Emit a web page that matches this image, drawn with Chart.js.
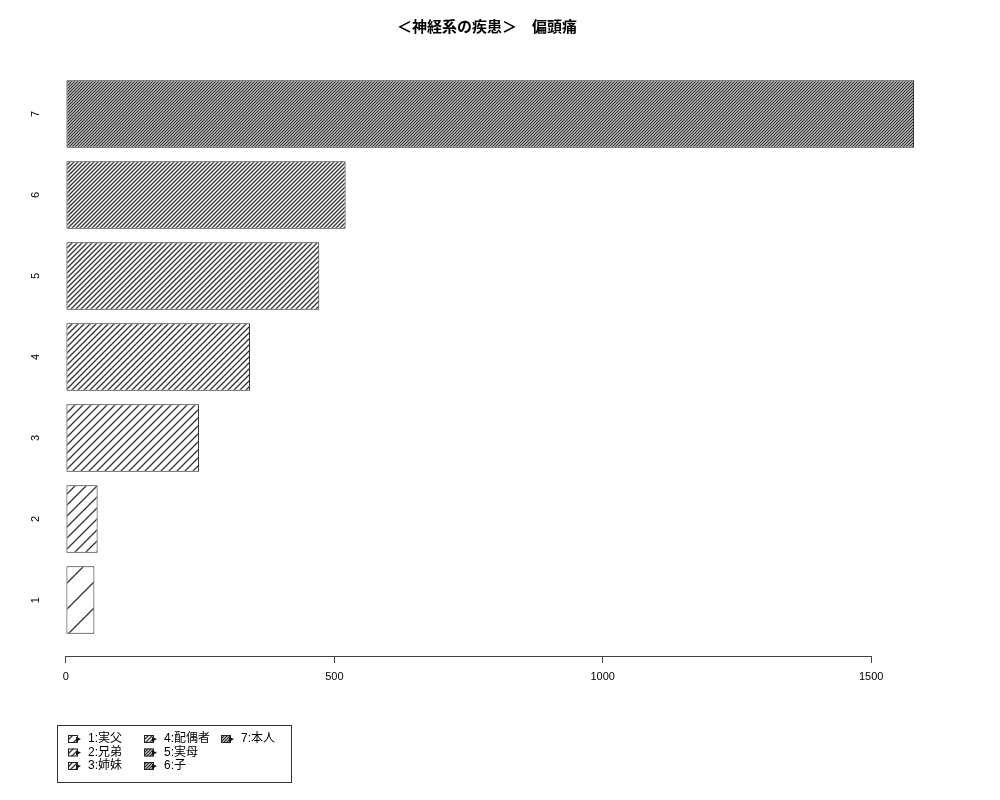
<!DOCTYPE html>
<html>
<head>
<meta charset="utf-8">
<script src="https://cdn.jsdelivr.net/npm/chart.js@4/dist/chart.umd.min.js"></script>
<style>
  html, body { margin: 0; padding: 0; background: #fff; }
  canvas { display: block; }
</style>
</head>
<body>
<canvas id="chart" width="1000" height="800"></canvas>
<script>
// data
const categories = ['1', '2', '3', '4', '5', '6', '7'];
const values = [53, 59, 248, 343, 472, 521, 1580];
const legendLabels = ['1:実父', '2:兄弟', '3:姉妹', '4:配偶者', '5:実母', '6:子', '7:本人'];
const xTicks = [0, 500, 1000, 1500];
const titleText = '＜神経系の疾患＞　偏頭痛';

// hatch gap per bar (px), denser for higher categories
const hatchGaps = [26, 11, 8, 6, 5, 4, 3];
const FONT = '"Liberation Sans", "Noto Sans CJK JP", sans-serif';

function makeHatch(gap) {
  const c = document.createElement('canvas');
  c.width = gap; c.height = gap;
  const g = c.getContext('2d');
  g.fillStyle = '#fff';
  g.fillRect(0, 0, gap, gap);
  g.strokeStyle = '#333';
  g.lineWidth = 1.3;
  g.beginPath();
  g.moveTo(0, gap); g.lineTo(gap, 0);
  g.moveTo(-2, 2); g.lineTo(2, -2);
  g.moveTo(gap - 2, gap + 2); g.lineTo(gap + 2, gap - 2);
  g.stroke();
  return g.createPattern(c, 'repeat');
}
const patterns = hatchGaps.map(makeHatch);

// extra drawing: title, axis line, rotated category labels, legend box
const decor = {
  id: 'decor',
  afterDraw(chart) {
    const ctx = chart.ctx;
    const xs = chart.scales.x, ys = chart.scales.y;
    const area = chart.chartArea;
    ctx.save();

    ctx.fillStyle = '#000';
    ctx.font = 'bold 15px ' + FONT;
    ctx.textAlign = 'center';
    ctx.textBaseline = 'middle';
    ctx.fillText(titleText, 487, 28);

    ctx.strokeStyle = '#444';
    ctx.lineWidth = 1.2;
    ctx.beginPath();
    ctx.moveTo(xs.getPixelForValue(xTicks[0]), area.bottom + 0.5);
    ctx.lineTo(xs.getPixelForValue(xTicks[xTicks.length - 1]), area.bottom + 0.5);
    ctx.stroke();

    ctx.font = '11px ' + FONT;
    categories.forEach(c => {
      ctx.save();
      ctx.translate(36, ys.getPixelForValue(Number(c)));
      ctx.rotate(-Math.PI / 2);
      ctx.fillText(c, 0, 0);
      ctx.restore();
    });

    // legend
    const lx = 57, ly = 725, lw = 234, lh = 57;
    ctx.strokeStyle = '#333';
    ctx.lineWidth = 1;
    ctx.strokeRect(lx + 0.5, ly + 0.5, lw, lh);
    ctx.font = '12px ' + FONT;
    ctx.textAlign = 'left';
    const colX = [68, 144, 221];
    legendLabels.forEach((lab, i) => {
      const col = Math.floor(i / 3), row = i % 3;
      const x = colX[col], y = ly + 14 + row * 13.5;
      ctx.fillStyle = patterns[Math.min(i + 2, patterns.length - 1)];
      ctx.fillRect(x, y - 4, 10, 8);
      ctx.strokeStyle = '#222';
      ctx.strokeRect(x + 0.5, y - 3.5, 9, 7);
      ctx.fillStyle = '#111';
      ctx.beginPath();
      ctx.moveTo(x + 8, y - 2); ctx.lineTo(x + 13, y); ctx.lineTo(x + 8, y + 3);
      ctx.closePath();
      ctx.fill();
      ctx.fillStyle = '#000';
      ctx.fillText(lab, x + 20, y);
    });
    ctx.restore();
  }
};

new Chart(document.getElementById('chart'), {
  type: 'bar',
  data: {
    datasets: [{
      data: categories.map((c, i) => ({ x: values[i], y: Number(c) })),
      backgroundColor: patterns,
      borderColor: '#222',
      borderWidth: 1,
      borderSkipped: false,
      barPercentage: 1 / 1.2,
      categoryPercentage: 1
    }]
  },
  options: {
    indexAxis: 'y',
    responsive: false,
    animation: false,
    devicePixelRatio: 1,
    layout: { padding: { left: 32, right: 52, top: 58, bottom: 114 } },
    plugins: { legend: { display: false }, tooltip: { enabled: false }, title: { display: false } },
    scales: {
      x: {
        type: 'linear',
        min: -63.2,
        max: 1643.2,
        afterBuildTicks: s => { s.ticks = xTicks.map(v => ({ value: v })); },
        afterFit: s => { s.height = 30; },
        grid: { drawOnChartArea: false, drawTicks: true, tickLength: 7, color: '#444' },
        border: { display: false },
        ticks: { color: '#000', font: { size: 11, family: FONT }, padding: 7, maxRotation: 0,
                 callback: v => String(v) }
      },
      y: {
        type: 'linear',
        min: 0.31,
        max: 7.69,
        offset: false,
        display: false,
        afterBuildTicks: s => { s.ticks = categories.map(c => ({ value: Number(c) })); }
      }
    }
  },
  plugins: [decor]
});
</script>
</body>
</html>
